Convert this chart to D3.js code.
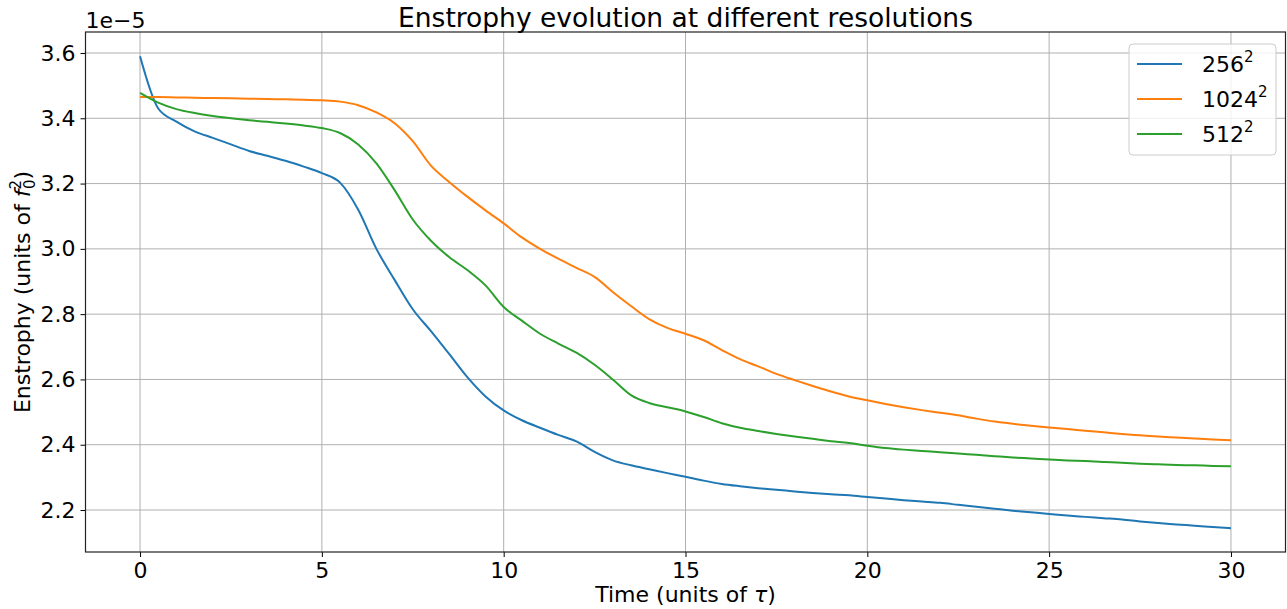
<!DOCTYPE html>
<html><head><meta charset="utf-8">
<script src="https://cdn.jsdelivr.net/npm/d3@7"></script>
<style>body{margin:0;background:#fff}svg{font-family:"DejaVu Sans",sans-serif}</style>
</head><body><svg id="c" width="1287" height="609"></svg>
<script>
const time = d3.range(0, 30.001, 0.5);
const seriesNames = ["256", "1024", "512"];
const colors = ["#1f77b4", "#ff7f0e", "#2ca02c"];
const res256 = [3.59,3.43,3.39,3.36,3.34,3.32,3.30,3.285,3.27,3.252,3.232,3.203,3.12,3.0,2.905,2.815,2.748,2.678,2.607,2.548,2.505,2.475,2.452,2.43,2.41,2.378,2.352,2.337,2.325,2.313,2.302,2.29,2.28,2.273,2.267,2.262,2.257,2.252,2.248,2.245,2.24,2.235,2.23,2.226,2.222,2.216,2.21,2.204,2.198,2.193,2.188,2.183,2.179,2.175,2.171,2.165,2.16,2.156,2.152,2.148,2.144];
const res1024 = [3.465,3.465,3.464,3.463,3.462,3.461,3.46,3.459,3.458,3.457,3.455,3.451,3.44,3.418,3.385,3.33,3.255,3.205,3.16,3.118,3.078,3.035,3.0,2.97,2.942,2.914,2.868,2.825,2.785,2.758,2.74,2.72,2.69,2.662,2.64,2.617,2.598,2.58,2.563,2.548,2.536,2.525,2.515,2.506,2.498,2.49,2.48,2.471,2.464,2.458,2.453,2.448,2.443,2.438,2.433,2.429,2.425,2.422,2.419,2.416,2.414];
const res512 = [3.478,3.448,3.428,3.416,3.407,3.40,3.394,3.389,3.384,3.378,3.37,3.355,3.32,3.262,3.18,3.09,3.025,2.975,2.935,2.888,2.822,2.78,2.74,2.71,2.682,2.645,2.6,2.552,2.528,2.515,2.502,2.485,2.466,2.452,2.442,2.433,2.425,2.418,2.411,2.405,2.397,2.39,2.385,2.381,2.377,2.373,2.369,2.365,2.361,2.358,2.355,2.352,2.35,2.347,2.345,2.342,2.34,2.338,2.337,2.335,2.334];
const xTicks = [0,5,10,15,20,25,30];
const yTicks = [2.2,2.4,2.6,2.8,3.0,3.2,3.4,3.6];
const series = [res256, res1024, res512];

const L = 85.5, R = 1285.5, T = 32, B = 552;
const FS = 22;
const svg = d3.select("#c");
const x = d3.scaleLinear().domain([-1.5, 31.5]).range([L, R]);
const y = d3.scaleLinear().domain([2.0714, 3.6643]).range([B, T]);

const g = svg.append("g");
g.selectAll(".gx").data(xTicks).enter().append("line")
  .attr("x1", d => x(d)).attr("x2", d => x(d)).attr("y1", T).attr("y2", B)
  .attr("stroke", "#b0b0b0").attr("stroke-width", 1);
g.selectAll(".gy").data(yTicks).enter().append("line")
  .attr("y1", d => y(d)).attr("y2", d => y(d)).attr("x1", L).attr("x2", R)
  .attr("stroke", "#b0b0b0").attr("stroke-width", 1);

const xAxis = d3.axisBottom(x).tickValues(xTicks).tickFormat(d3.format("d")).tickSizeOuter(0).tickSize(5).tickPadding(5);
const yAxis = d3.axisLeft(y).tickValues(yTicks).tickFormat(d3.format(".1f")).tickSizeOuter(0).tickSize(5).tickPadding(5);
const gx = svg.append("g").attr("transform", `translate(0,${B})`).call(xAxis);
const gy = svg.append("g").attr("transform", `translate(${L},0)`).call(yAxis);
[gx, gy].forEach(a => {
  a.select(".domain").remove();
  a.selectAll("text").attr("font-size", FS).attr("fill", "#000").attr("font-family", "DejaVu Sans");
  a.selectAll("line").attr("stroke", "#000").attr("stroke-width", 1);
});
svg.append("rect").attr("x", L).attr("y", T).attr("width", R - L).attr("height", B - T)
  .attr("fill", "none").attr("stroke", "#222").attr("stroke-width", 1.2);

const line = d3.line().x((d, i) => x(time[i])).y(d => y(d)).curve(d3.curveMonotoneX);
series.forEach((s, k) => {
  svg.append("path").datum(s).attr("d", line).attr("fill", "none")
    .attr("stroke", colors[k]).attr("stroke-width", 2).attr("stroke-linejoin", "round");
});

svg.append("text").attr("x", L).attr("y", 28).attr("font-size", FS).text("1e\u22125");

svg.append("text").attr("x", (L + R) / 2).attr("y", 27).attr("text-anchor", "middle")
  .attr("font-size", 26.5).text("Enstrophy evolution at different resolutions");

const xl = svg.append("text").attr("x", (L + R) / 2).attr("y", 602).attr("text-anchor", "middle").attr("font-size", FS);
xl.append("tspan").text("Time (units of ");
xl.append("tspan").attr("font-style", "italic").text("\u03c4");
xl.append("tspan").text(")");

const yl = svg.append("text").attr("transform", `translate(30,${(T + B) / 2}) rotate(-90)`)
  .attr("text-anchor", "middle").attr("font-size", FS);
yl.append("tspan").text("Enstrophy (units of ");
yl.append("tspan").attr("font-style", "italic").text("f");
yl.append("tspan").attr("font-size", 15).attr("dy", -9).text("2");
yl.append("tspan").attr("font-size", 15).attr("dx", -9).attr("dy", 14).text("0");
yl.append("tspan").attr("dy", -5).text(")");

const lg = svg.append("g");
lg.append("rect").attr("x", 1129).attr("y", 44).attr("width", 147).attr("height", 111)
  .attr("rx", 4).attr("fill", "#fff").attr("fill-opacity", 0.8).attr("stroke", "#ccc").attr("stroke-width", 1);
seriesNames.forEach((n, k) => {
  const yy = 64 + k * 35;
  lg.append("line").attr("x1", 1137).attr("x2", 1182).attr("y1", yy).attr("y2", yy)
    .attr("stroke", colors[k]).attr("stroke-width", 2);
  const t = lg.append("text").attr("x", 1202).attr("y", yy + 8).attr("font-size", FS);
  t.append("tspan").text(n);
  t.append("tspan").attr("font-size", 15).attr("dy", -10).text("2");
});
</script></body></html>
